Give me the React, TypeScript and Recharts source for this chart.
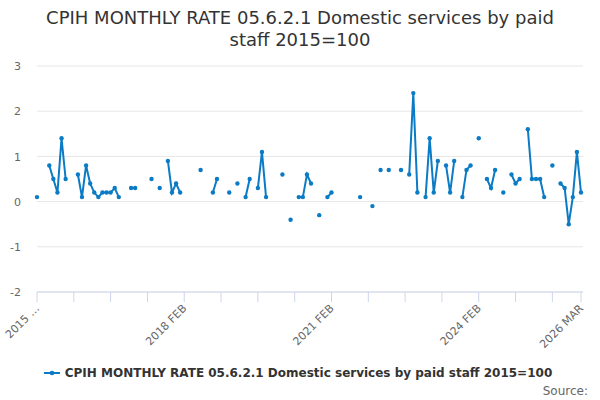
import React from 'react';
import { LineChart, Line, XAxis, YAxis, CartesianGrid, Legend } from 'recharts';

const SERIES_NAME = 'CPIH MONTHLY RATE 05.6.2.1 Domestic services by paid staff 2015=100';
const TITLE = 'CPIH MONTHLY RATE 05.6.2.1 Domestic services by paid staff 2015=100';
const LINE_COLOR = '#0a7bc4';
const FONT = '"DejaVu Sans", sans-serif';

const MONTH_NAMES = ['JAN', 'FEB', 'MAR', 'APR', 'MAY', 'JUN', 'JUL', 'AUG', 'SEP', 'OCT', 'NOV', 'DEC'];

// Monthly rate values (%), null = no data published
const v2015 = [0.1, null, null, 0.8, 0.5, 0.2, 1.4, 0.5, null, null, 0.6]; // FEB-DEC
const v2016 = [0.1, 0.8, 0.4, 0.2, 0.1, 0.2, 0.2, 0.2, 0.3, 0.1, null, null];
const v2017 = [0.3, 0.3, null, null, null, 0.5, null, 0.3, null, 0.9, 0.2, 0.4];
const v2018 = [0.2, null, null, null, null, 0.7, null, null, 0.2, 0.5, null, null];
const v2019 = [0.2, null, 0.4, null, 0.1, 0.5, null, 0.3, 1.1, 0.1, null, null];
const v2020 = [null, 0.6, null, -0.4, null, 0.1, 0.1, 0.6, 0.4, null, -0.3, null];
const v2021 = [0.1, 0.2, null, null, null, null, null, null, 0.1, null, null, -0.1];
const v2022 = [null, 0.7, null, 0.7, null, null, 0.7, null, 0.6, 2.4, 0.2, null];
const v2023 = [0.1, 1.4, 0.2, 0.9, null, 0.8, 0.2, 0.9, null, 0.1, 0.7, 0.8];
const v2024 = [null, 1.4, null, 0.5, 0.3, 0.7, null, 0.2, null, 0.6, 0.4, 0.5];
const v2025 = [null, 1.6, 0.5, 0.5, 0.5, 0.1, null, 0.8, null, 0.4, 0.3, -0.5];
const v2026 = [0.1, 1.1, 0.2]; // JAN-MAR

const values: (number | null)[] = [
  ...v2015, ...v2016, ...v2017, ...v2018, ...v2019, ...v2020,
  ...v2021, ...v2022, ...v2023, ...v2024, ...v2025, ...v2026,
];

// Categories start at 2015 FEB
const categories: string[] = values.map((_, i) => {
  const m = i + 1;
  return `${2015 + Math.floor(m / 12)} ${MONTH_NAMES[m % 12]}`;
});

const yTicks = [-2, -1, 0, 1, 2, 3];
const labelledTicks = ['2015 FEB', '2018 FEB', '2021 FEB', '2024 FEB', '2026 MAR'];
const tickLabelText: Record<string, string> = { '2015 FEB': '2015 …' };
const xTicks = [
  ...categories.filter((_, i) => i % 9 === 0),
  categories[categories.length - 1],
];

const data = categories.map((c, i) => ({ month: c, value: values[i] }));

const XTick = (props: any) => {
  const { x, payload } = props;
  const v = payload.value as string;
  if (!labelledTicks.includes(v)) return null;
  const ax = x + 3;
  const ay = 309;
  return (
    <text
      x={ax}
      y={ay}
      transform={`rotate(-45, ${ax}, ${ay})`}
      textAnchor="end"
      fontSize={11}
      fontFamily={FONT}
      fill="#666666"
    >
      {tickLabelText[v] ?? v}
    </text>
  );
};

const YTick = (props: any) => {
  const { y, payload } = props;
  return (
    <text x={21} y={y + 4.2} textAnchor="end" fontSize={11} fontFamily={FONT} fill="#666666">
      {payload.value}
    </text>
  );
};

const renderLegend = () => (
  <div
    style={{
      display: 'flex',
      justifyContent: 'center',
      alignItems: 'center',
      fontFamily: FONT,
      fontSize: 12,
      fontWeight: 'bold',
      color: '#333333',
      whiteSpace: 'nowrap',
    }}
  >
    <svg width={16} height={10} style={{ display: 'block' }}>
      <line x1={0} y1={5} x2={16} y2={5} stroke={LINE_COLOR} strokeWidth={2} />
      <circle cx={8} cy={5} r={2.3} fill={LINE_COLOR} />
    </svg>
    <span style={{ marginLeft: 5 }}>{SERIES_NAME}</span>
  </div>
);

export default function App() {
  return (
    <div style={{ position: 'absolute', left: 0, top: 0, width: 600, height: 400, background: '#ffffff' }}>
      <div
        style={{
          position: 'absolute',
          left: 40,
          top: 7,
          width: 520,
          textAlign: 'center',
          fontFamily: FONT,
          fontSize: 18,
          lineHeight: '21.5px',
          color: '#333333',
        }}
      >
        {TITLE}
      </div>
      <LineChart
        width={600}
        height={400}
        data={data}
        margin={{ top: 66, right: 17, bottom: 48, left: 0 }}
      >
        <CartesianGrid horizontal vertical={false} stroke="#e6e6e6" />
        <XAxis
          dataKey="month"
          ticks={xTicks}
          interval={0}
          height={60}
          padding={{ left: 0, right: 2 }}
          axisLine={{ stroke: '#ccd6eb' }}
          tickLine={{ stroke: '#ccd6eb' }}
          tickSize={10}
          tick={<XTick />}
        />
        <YAxis
          domain={[-2, 3]}
          ticks={yTicks}
          width={37}
          axisLine={false}
          tickLine={false}
          tick={<YTick />}
          interval={0}
        />
        <Legend
          verticalAlign="middle"
          align="center"
          layout="horizontal"
          content={renderLegend}
          wrapperStyle={{ top: 366, left: -2, width: 600 }}
        />
        <Line
          type="linear"
          dataKey="value"
          name={SERIES_NAME}
          stroke={LINE_COLOR}
          strokeWidth={2}
          dot={{ r: 2.2, fill: LINE_COLOR, stroke: 'none' }}
          activeDot={false}
          isAnimationActive={false}
        />
      </LineChart>
      <div
        style={{
          position: 'absolute',
          right: 12,
          top: 384,
          fontFamily: FONT,
          fontSize: 12,
          color: '#666666',
        }}
      >
        Source:
      </div>
    </div>
  );
}
